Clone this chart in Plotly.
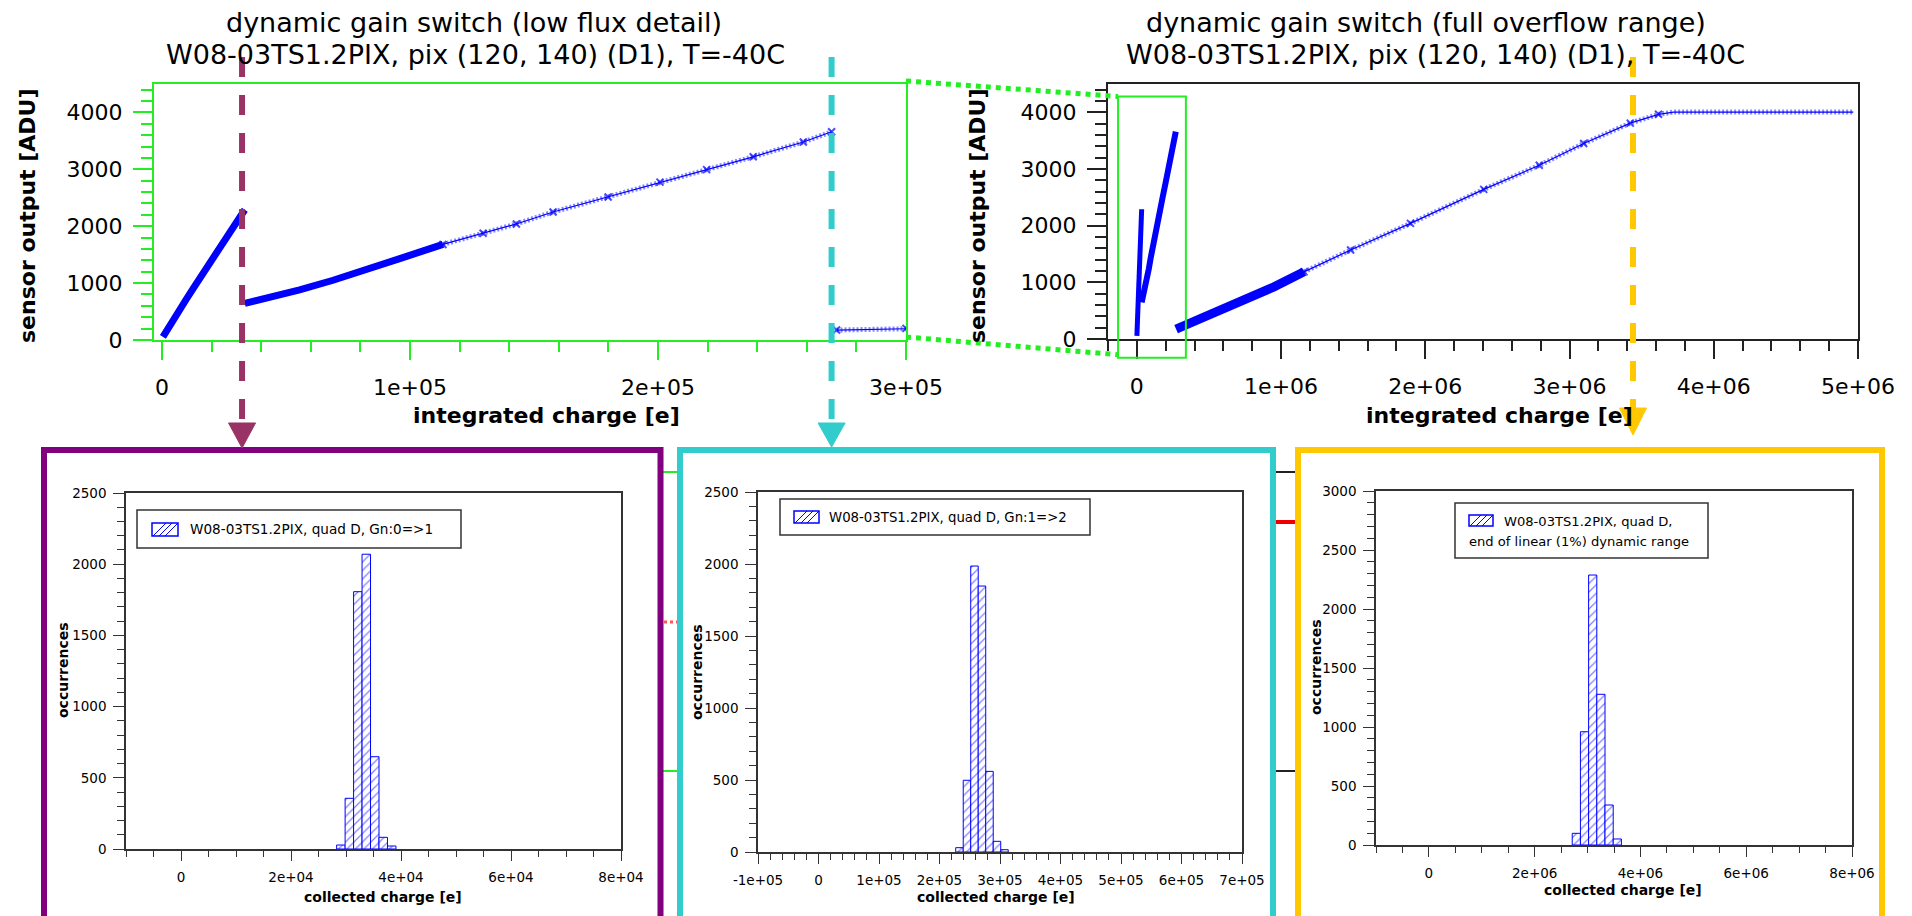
import plotly.graph_objects as go

W, H = 1912, 916

# ---------------- data ----------------
# ramp: integrated charge [e] vs sensor output [ADU], one list per gain stage
gain0_charge = [400, 2500, 5000, 7500, 10000, 12500, 15000, 17500, 20000, 22500, 25000, 27500, 30000, 32000, 33400]
gain0_adu = [55, 215, 385, 560, 730, 900, 1065, 1230, 1395, 1560, 1720, 1880, 2040, 2170, 2290]

gain1_charge = [33400, 45000, 55500, 69000, 82400, 95900, 113300, 129500, 142900, 157700, 179900,
                200800, 219600, 238400, 258600, 270000]
gain1_adu = [645, 765, 880, 1050, 1230, 1430, 1680, 1875, 2040, 2250, 2515, 2775, 2995, 3220, 3480, 3660]

gain2_charge = [272000, 300000, 351000, 628000, 951000, 1159000, 1482000, 1897000, 2405000, 2790000,
                3098000, 3421000, 3617000, 3721000, 4000000, 4500000, 4967000]
gain2_adu = [175, 205, 265, 540, 920, 1185, 1570, 2040, 2640, 3065, 3450, 3810, 3965, 4005, 4005, 4005, 4005]

switch_0_to_1 = 32300        # e, gain 0 => 1
switch_1_to_2 = 270000       # e, gain 1 => 2
linear_range_end = 3440000   # e, end of linear (1%) dynamic range
saturation_adu = 4000        # no bold markers on the saturated plateau

zoom_box_charge = [-130000, 340000]   # window of the left plot shown on the right plot
zoom_box_adu = [-330, 4280]

# histograms of the switching charge
hist1_centers = [29070, 30610, 32150, 33690, 35230, 36770, 38310]
hist1_counts = [28, 356, 1807, 2070, 648, 82, 21]
hist1_binwidth = 1540
hist1_label = "W08-03TS1.2PIX, quad D, Gn:0=>1"

hist2_centers = [233000, 245400, 257800, 270200, 282600, 295000, 307400]
hist2_counts = [30, 498, 1986, 1847, 560, 74, 16]
hist2_binwidth = 12400
hist2_label = "W08-03TS1.2PIX, quad D, Gn:1=>2"

hist3_centers = [2787500, 2942500, 3097500, 3252500, 3407500, 3562500]
hist3_counts = [99, 960, 2288, 1277, 339, 51]
hist3_binwidth = 155000
hist3_label_lines = ["W08-03TS1.2PIX, quad D,", "end of linear (1%) dynamic range"]

# tick labels
tl_xticks = [0, 100000, 200000, 300000]
tl_xtext = ["0", "1e+05", "2e+05", "3e+05"]
tr_xticks = [0, 1000000, 2000000, 3000000, 4000000, 5000000]
tr_xtext = ["0", "1e+06", "2e+06", "3e+06", "4e+06", "5e+06"]
adu_ticks = [0, 1000, 2000, 3000, 4000]
h1_xticks = [0, 20000, 40000, 60000, 80000]
h1_xtext = ["0", "2e+04", "4e+04", "6e+04", "8e+04"]
h2_xticks = [-100000, 0, 100000, 200000, 300000, 400000, 500000, 600000, 700000]
h2_xtext = ["-1e+05", "0", "1e+05", "2e+05", "3e+05", "4e+05", "5e+05", "6e+05", "7e+05"]
h3_xticks = [0, 2000000, 4000000, 6000000, 8000000]
h3_xtext = ["0", "2e+06", "4e+06", "6e+06", "8e+06"]
occ_ticks_2500 = [0, 500, 1000, 1500, 2000, 2500]
occ_ticks_3000 = [0, 500, 1000, 1500, 2000, 2500, 3000]

title_l = ["dynamic gain switch (low flux detail)", "W08-03TS1.2PIX, pix (120, 140) (D1), T=-40C"]
title_r = ["dynamic gain switch (full overflow range)", "W08-03TS1.2PIX, pix (120, 140) (D1), T=-40C"]

# ---------------- styles / layout geometry (pixels) ----------------
FONT = "DejaVu Sans"
BLUE = "#0000ff"
GREEN = "#22ee22"
PURPLE_LINE = "#993366"
PURPLE_BOX = "#800080"
CYAN = "#33cccc"
YELLOW = "#ffc800"

TL = dict(x0=154, x1=906, top=84, bottom=340, xr=(-3200, 300000), yr=(0, 4500))
TR = dict(x0=1108, x1=1858, top=84, bottom=339, xr=(-200000, 5000000), yr=(0, 4500))
H1 = dict(x0=126, x1=621, top=493, bottom=849, xr=(-10000, 80000), yr=(0, 2500))
H2 = dict(x0=758, x1=1242, top=492, bottom=852, xr=(-100000, 700000), yr=(0, 2500))
H3 = dict(x0=1376, x1=1852, top=491, bottom=845, xr=(-1000000, 8000000), yr=(0, 3000))


def X(px):
    return px / W


def Y(py):
    return 1 - py / H


def xpx(ax, v):
    return ax["x0"] + (v - ax["xr"][0]) / (ax["xr"][1] - ax["xr"][0]) * (ax["x1"] - ax["x0"])


def ypx(ax, v):
    return ax["bottom"] - (v - ax["yr"][0]) / (ax["yr"][1] - ax["yr"][0]) * (ax["bottom"] - ax["top"])


fig = go.Figure()


def add_curve(xs, ys, xa, ya, split, dense_w):
    if split > 0:
        fig.add_trace(go.Scatter(x=xs[:split + 1], y=ys[:split + 1], mode="lines",
                                 line=dict(color=BLUE, width=dense_w), xaxis=xa, yaxis=ya,
                                 showlegend=False, hoverinfo="skip"))
    sx, sy = xs[split:], ys[split:]
    if len(sx) > 1:
        fig.add_trace(go.Scatter(x=sx, y=sy, mode="lines",
                                 line=dict(color="rgba(40,40,255,0.55)", width=5, dash="2px,2px"),
                                 xaxis=xa, yaxis=ya, showlegend=False, hoverinfo="skip"))
        sizes = [7 if v < saturation_adu else 0 for v in sy]
        fig.add_trace(go.Scatter(x=sx, y=sy, mode="lines+markers",
                                 line=dict(color=BLUE, width=1.2),
                                 marker=dict(symbol="x-thin", size=sizes, line=dict(color=BLUE, width=2)),
                                 xaxis=xa, yaxis=ya, showlegend=False, hoverinfo="skip"))


# left plot (low flux detail)
add_curve(gain0_charge, gain0_adu, "x", "y", len(gain0_charge) - 1, 7)
add_curve(gain1_charge, gain1_adu, "x", "y", 6, 7)
add_curve(gain2_charge, gain2_adu, "x", "y", 0, 7)
# right plot (full range)
add_curve(gain0_charge, gain0_adu, "x2", "y2", len(gain0_charge) - 1, 5)
add_curve(gain1_charge, gain1_adu, "x2", "y2", len(gain1_charge) - 1, 6)
add_curve(gain2_charge, gain2_adu, "x2", "y2", 5, 9)

# histograms
for centers, counts, bw, xa, ya in [
    (hist1_centers, hist1_counts, hist1_binwidth, "x3", "y3"),
    (hist2_centers, hist2_counts, hist2_binwidth, "x4", "y4"),
    (hist3_centers, hist3_counts, hist3_binwidth, "x5", "y5"),
]:
    fig.add_trace(go.Bar(x=centers, y=counts, width=bw, xaxis=xa, yaxis=ya, showlegend=False,
                         hoverinfo="skip",
                         marker=dict(color="white", line=dict(color=BLUE, width=1),
                                     pattern=dict(shape="/", fgcolor=BLUE, bgcolor="white",
                                                  size=6, solidity=0.2))))


def axis_x(ax, anchor, tickvals, ticktext, color, linew, tfont, tlen, minor_dtick, mlen, twidth, standoff):
    return dict(domain=[X(ax["x0"]), X(ax["x1"])], range=list(ax["xr"]), anchor=anchor,
                automargin=False,
                tickmode="array", tickvals=tickvals, ticktext=ticktext,
                ticks="outside", ticklen=tlen, tickwidth=twidth, tickcolor=color,
                showline=True, linecolor=color, linewidth=linew, mirror=True,
                showgrid=False, zeroline=False, ticklabelstandoff=standoff,
                tickfont=dict(family=FONT, size=tfont, color="black"),
                minor=dict(ticks="outside", ticklen=mlen, tickwidth=twidth, tickcolor=color,
                           tick0=0, dtick=minor_dtick, showgrid=False),
                fixedrange=True)


def axis_y(ax, anchor, tickvals, color, linew, tfont, tlen, minor_dtick, mlen, twidth, standoff):
    return dict(domain=[Y(ax["bottom"]), Y(ax["top"])], range=list(ax["yr"]), anchor=anchor,
                automargin=False,
                tickmode="array", tickvals=tickvals, ticktext=[str(v) for v in tickvals],
                ticks="outside", ticklen=tlen, tickwidth=twidth, tickcolor=color,
                showline=True, linecolor=color, linewidth=linew, mirror=True,
                showgrid=False, zeroline=False, ticklabelstandoff=standoff,
                tickfont=dict(family=FONT, size=tfont, color="black"),
                minor=dict(ticks="outside", ticklen=mlen, tickwidth=twidth, tickcolor=color,
                           tick0=0, dtick=minor_dtick, showgrid=False),
                fixedrange=True)


layout = dict(
    width=W, height=H, autosize=False,
    margin=dict(l=0, r=0, t=0, b=0, pad=0, autoexpand=False),
    paper_bgcolor="white", plot_bgcolor="rgba(0,0,0,0)",
    showlegend=False, hovermode=False,
    xaxis=axis_x(TL, "y", tl_xticks, tl_xtext, GREEN, 2, 22, 18, 20000, 10, 2, 9),
    yaxis=axis_y(TL, "x", adu_ticks, GREEN, 2, 22, 19, 200, 11, 2, 6),
    xaxis2=axis_x(TR, "y2", tr_xticks, tr_xtext, "#222222", 2, 22, 18, 200000, 10, 2, 9),
    yaxis2=axis_y(TR, "x2", adu_ticks, "#222222", 2, 22, 19, 200, 11, 2, 6),
    xaxis3=axis_x(H1, "y3", h1_xticks, h1_xtext, "#333333", 1.5, 13.5, 10, 5000, 6, 1, 5),
    yaxis3=axis_y(H1, "x3", occ_ticks_2500, "#333333", 1.5, 13.5, 11, 100, 7, 1, 4),
    xaxis4=axis_x(H2, "y4", h2_xticks, h2_xtext, "#333333", 1.5, 13.5, 10, 20000, 6, 1, 5),
    yaxis4=axis_y(H2, "x4", occ_ticks_2500, "#333333", 1.5, 13.5, 11, 100, 7, 1, 4),
    xaxis5=axis_x(H3, "y5", h3_xticks, h3_xtext, "#333333", 1.5, 13.5, 10, 500000, 6, 1, 5),
    yaxis5=axis_y(H3, "x5", occ_ticks_3000, "#333333", 1.5, 13.5, 11, 100, 7, 1, 4),
)

shapes = []
annotations = []


def line(x0, y0, x1, y1, color, width, dash=None):
    d = dict(color=color, width=width)
    if dash:
        d["dash"] = dash
    shapes.append(dict(type="line", xref="paper", yref="paper", x0=X(x0), y0=Y(y0), x1=X(x1), y1=Y(y1), line=d))


def rect(x0, y0, x1, y1, color, width, fill=None):
    s = dict(type="rect", xref="paper", yref="paper", x0=X(x0), y0=Y(y0), x1=X(x1), y1=Y(y1),
             line=dict(color=color, width=width))
    if fill:
        s["fillcolor"] = fill
    shapes.append(s)


def tri_down(xc, ybase, ytip, half, color):
    p = "M{:.6f},{:.6f} L{:.6f},{:.6f} L{:.6f},{:.6f} Z".format(
        X(xc - half), Y(ybase), X(xc + half), Y(ybase), X(xc), Y(ytip))
    shapes.append(dict(type="path", xref="paper", yref="paper", path=p, fillcolor=color,
                       line=dict(color=color, width=1)))


def text(x, y, s, size, bold=False, xanchor="center", angle=0, color="black"):
    annotations.append(dict(x=X(x), y=Y(y), xref="paper", yref="paper", text=s, showarrow=False,
                            xanchor=xanchor, yanchor="middle", textangle=angle,
                            font=dict(family=FONT, size=size, color=color,
                                      weight="bold" if bold else "normal")))


# remnants of an underlying plot visible between the boxes
line(663, 472, 678, 472, GREEN, 2)
line(663, 771, 678, 771, GREEN, 2)
line(664, 622, 677, 622, "#ff5555", 3, "dot")
line(1276, 472, 1296, 472, "#222222", 2)
line(1276, 771, 1296, 771, "#222222", 2)
line(1276, 522, 1296, 522, "#ee0000", 4)

# coloured boxes around the histograms
rect(44, 450, 660.5, 940, PURPLE_BOX, 6)
rect(680, 450, 1273, 940, CYAN, 6)
rect(1298, 450, 1882, 940, YELLOW, 6)

# zoom window on the right plot and connecting dotted lines
zb_l, zb_r = xpx(TR, zoom_box_charge[0]), xpx(TR, zoom_box_charge[1])
zb_b, zb_t = ypx(TR, zoom_box_adu[0]), ypx(TR, zoom_box_adu[1])
rect(zb_l, zb_t, zb_r, zb_b, GREEN, 2)
line(TL["x1"], TL["top"] - 3, zb_l, zb_t, GREEN, 5, "dot")
line(TL["x1"], TL["bottom"] - 3, zb_l, zb_b - 3, GREEN, 5, "dot")

# dashed markers with arrows pointing to the histograms
for xc, color, ybase, ytip in [
    (xpx(TL, switch_0_to_1), PURPLE_LINE, 423, 448),
    (xpx(TL, switch_1_to_2), CYAN, 423, 447),
    (xpx(TR, linear_range_end), YELLOW, 408, 435),
]:
    line(xc, 57, xc, ybase, color, 6, "20px,18px")
    tri_down(xc, ybase, ytip, 13.5, color)

# titles
text(474, 23, title_l[0], 27)
text(475, 55, title_l[1], 27)
text(1426, 23, title_r[0], 27)
text(1435, 55, title_r[1], 27)

# axis titles (top)
text(27, 216, "sensor output [ADU]", 22, True, angle=-90)
text(977, 216, "sensor output [ADU]", 22, True, angle=-90)
text(546, 415, "integrated charge [e]", 22, True)
text(1499, 415, "integrated charge [e]", 22, True)

# axis titles (histograms)
text(63, 670, "occurrences", 14, True, angle=-90)
text(697, 672, "occurrences", 14, True, angle=-90)
text(1316, 667, "occurrences", 14, True, angle=-90)
text(383, 897, "collected charge [e]", 14, True)
text(996, 897, "collected charge [e]", 14, True)
text(1623, 890, "collected charge [e]", 14, True)


# legends drawn by hand (box, hatched swatch, text)
def legend(box, sw, lines_):
    rect(box[0], box[1], box[2], box[3], "#333333", 1.5, "white")
    rect(sw[0], sw[1], sw[2], sw[3], BLUE, 1.5, "white")
    hgt = sw[3] - sw[1]
    xb = sw[0] + 1
    while xb + hgt <= sw[2]:
        line(xb, sw[3], xb + hgt, sw[1], BLUE, 1)
        xb += 6
    for (tx, ty, s, size) in lines_:
        text(tx, ty, s, size, xanchor="left")


legend((137, 510, 461, 548), (152, 523, 178, 536), [(188, 529, hist1_label, 13.6)])
legend((780, 499, 1090, 535), (794, 511, 819, 523), [(827, 517, hist2_label, 13.3)])
legend((1455, 503, 1708, 558), (1469, 515, 1493, 526),
       [(1502, 521, hist3_label_lines[0], 13.1), (1467, 541, hist3_label_lines[1], 13.1)])

layout["shapes"] = shapes
layout["annotations"] = annotations
fig.update_layout(**layout)

fig.write_html("out.html")
